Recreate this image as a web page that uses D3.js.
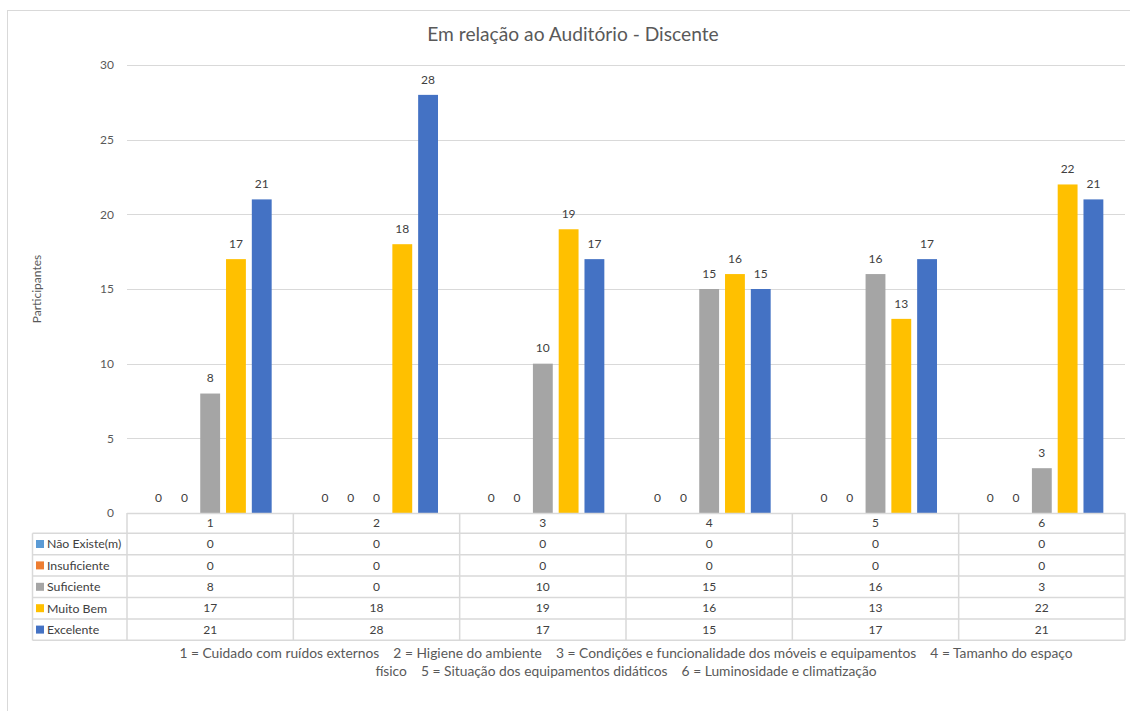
<!DOCTYPE html>
<html>
<head>
<meta charset="utf-8">
<script src="https://cdn.jsdelivr.net/npm/d3@7"></script>
<style>
  html, body { margin: 0; padding: 0; background: #fff; }
  svg { display: block; font-family: Lato, "Open Sans", sans-serif; }
</style>
</head>
<body>
<svg id="chart" width="1130" height="711"></svg>
<script>
const categories = ["1", "2", "3", "4", "5", "6"];
const seriesNames = ["Não Existe(m)", "Insuficiente", "Suficiente", "Muito Bem", "Excelente"];
const seriesColors = ["#5B9BD5", "#ED7D31", "#A5A5A5", "#FFC000", "#4472C4"];
const naoExiste = [0, 0, 0, 0, 0, 0];
const insuficiente = [0, 0, 0, 0, 0, 0];
const suficiente = [8, 0, 10, 15, 16, 3];
const muitoBem = [17, 18, 19, 16, 13, 22];
const excelente = [21, 28, 17, 15, 17, 21];
const yTicks = [0, 5, 10, 15, 20, 25, 30];
const title = "Em relação ao Auditório - Discente";
const yTitle = "Participantes";
const xTitleLines = [
  "1 = Cuidado com ruídos externos    2 = Higiene do ambiente    3 = Condições e funcionalidade dos móveis e equipamentos    4 = Tamanho do espaço",
  "físico    5 = Situação dos equipamentos didáticos    6 = Luminosidade e climatização"
];

const seriesValues = [naoExiste, insuficiente, suficiente, muitoBem, excelente];
const series = seriesNames.map((name, i) => ({ name, color: seriesColors[i], values: seriesValues[i] }));

const svg = d3.select("#chart");
const plot = { left: 127, right: 1125, top: 65, bottom: 513 };
const textColor = "#595959";
const labelColor = "#404040";
const lineColor = "#D9D9D9";

// outer border
svg.append("rect").attr("x", 7.5).attr("y", 10.5).attr("width", 1140).attr("height", 720)
  .attr("fill", "none").attr("stroke", lineColor);

// title
svg.append("text").attr("x", 573).attr("y", 41).attr("text-anchor", "middle")
  .attr("font-size", 19.2).attr("fill", textColor).text(title);

const y = d3.scaleLinear().domain([0, 30]).range([plot.bottom, plot.top]);
const x0 = d3.scaleBand().domain(categories).range([plot.left, plot.right]).padding(0);
const x1 = d3.scaleBand().domain(seriesNames).range([0, x0.bandwidth()]).paddingInner(0.23).paddingOuter(0.84);

// gridlines
svg.append("g").selectAll("line").data(yTicks.filter(t => t > 0)).join("line")
  .attr("x1", plot.left).attr("x2", plot.right)
  .attr("y1", d => Math.round(y(d)) + 0.5).attr("y2", d => Math.round(y(d)) + 0.5)
  .attr("stroke", lineColor).attr("stroke-width", 1);

// y tick labels
svg.append("g").selectAll("text").data(yTicks).join("text")
  .attr("x", 114).attr("y", d => y(d)).attr("dy", "0.35em").attr("text-anchor", "end")
  .attr("font-size", 12).attr("fill", textColor).text(d => d);

// y title
svg.append("text").attr("transform", `translate(41,${(plot.top + plot.bottom) / 2}) rotate(-90)`)
  .attr("text-anchor", "middle").attr("font-size", 12).attr("fill", textColor).text(yTitle);

// bars
const groups = svg.append("g").selectAll("g").data(categories).join("g")
  .attr("transform", d => `translate(${x0(d)},0)`);
groups.selectAll("rect").data((c, ci) => series.map(s => ({ s, v: s.values[ci] }))).join("rect")
  .attr("x", d => x1(d.s.name)).attr("width", x1.bandwidth())
  .attr("y", d => y(d.v)).attr("height", d => y(0) - y(d.v))
  .attr("fill", d => d.s.color);
groups.selectAll("text").data((c, ci) => series.map(s => ({ s, v: s.values[ci] }))).join("text")
  .attr("x", d => x1(d.s.name) + x1.bandwidth() / 2).attr("y", d => y(d.v) - 15.5)
  .attr("dy", "0.35em").attr("text-anchor", "middle")
  .attr("font-size", 12).attr("fill", labelColor).text(d => d.v);

// data table
const rowH = 21.4;
const headerTop = plot.bottom, headerBottom = headerTop + 20.3;
const tableLeft = 32.5;
const tbl = svg.append("g");
tbl.append("line").attr("x1", plot.left).attr("x2", plot.right).attr("y1", headerTop + 0.5).attr("y2", headerTop + 0.5).attr("stroke", lineColor).attr("stroke-width", 1.5);
const hLines = d3.range(seriesNames.length + 1).map(i => headerBottom + i * rowH);
tbl.selectAll("line.h").data(hLines).join("line").attr("class", "h")
  .attr("x1", tableLeft).attr("x2", plot.right).attr("y1", d => d).attr("y2", d => d)
  .attr("stroke", lineColor).attr("stroke-width", 1.5);
const vLines = categories.map(c => x0(c)).concat([plot.right]);
tbl.selectAll("line.v").data(vLines).join("line").attr("class", "v")
  .attr("x1", d => d).attr("x2", d => d).attr("y1", headerTop).attr("y2", hLines[hLines.length - 1])
  .attr("stroke", lineColor).attr("stroke-width", 1.5);
tbl.append("line").attr("x1", tableLeft).attr("x2", tableLeft).attr("y1", headerBottom).attr("y2", hLines[hLines.length - 1])
  .attr("stroke", lineColor).attr("stroke-width", 1.5);
tbl.selectAll("text.hd").data(categories).join("text").attr("class", "hd")
  .attr("x", d => x0(d) + x0.bandwidth() / 2).attr("y", (headerTop + headerBottom) / 2).attr("dy", "0.35em")
  .attr("text-anchor", "middle").attr("font-size", 12).attr("fill", labelColor).text(d => d);
series.forEach((s, i) => {
  const cy = headerBottom + i * rowH + rowH / 2;
  tbl.append("rect").attr("x", 36).attr("y", cy - 4).attr("width", 8).attr("height", 8).attr("fill", s.color);
  tbl.append("text").attr("x", 47).attr("y", cy).attr("dy", "0.35em").attr("font-size", 12.3)
    .attr("fill", labelColor).text(s.name);
  tbl.selectAll(null).data(categories).join("text")
    .attr("x", d => x0(d) + x0.bandwidth() / 2).attr("y", cy).attr("dy", "0.35em")
    .attr("text-anchor", "middle").attr("font-size", 12).attr("fill", labelColor)
    .text((d, ci) => s.values[ci]);
});

// x title (category key)
const xc = (plot.left + plot.right) / 2;
svg.append("text").attr("x", xc).attr("y", 653).attr("dy", "0.35em").attr("text-anchor", "middle")
  .attr("font-size", 13.8).attr("fill", textColor).attr("xml:space", "preserve").style("white-space", "pre").text(xTitleLines[0]);
svg.append("text").attr("x", xc).attr("y", 671).attr("dy", "0.35em").attr("text-anchor", "middle")
  .attr("font-size", 13.8).attr("fill", textColor).attr("xml:space", "preserve").style("white-space", "pre").text(xTitleLines[1]);
</script>
</body>
</html>
